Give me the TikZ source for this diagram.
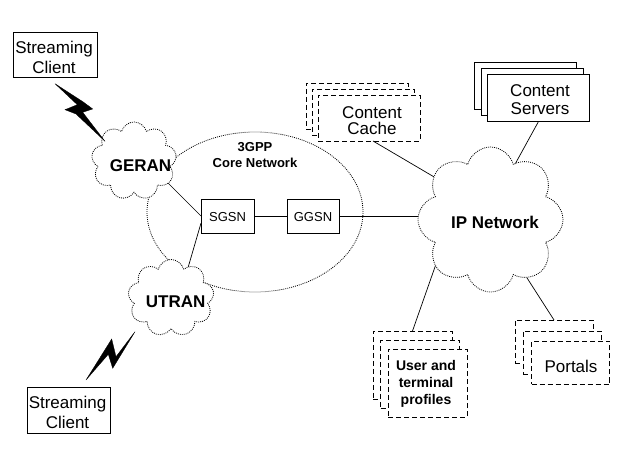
\documentclass[tikz,border=0pt]{standalone}
\usepackage{fontspec}
\setmainfont{Liberation Sans}
\usetikzlibrary{shapes.symbols,shapes.geometric}
\begin{document}
\begin{tikzpicture}[x=1pt,y=-1pt,
  every node/.style={inner sep=0pt,outer sep=0pt},
  box/.style={draw,fill=white,line width=0.8pt,rectangle},
  dbox/.style={box,dash pattern=on 5pt off 3pt},
  dots/.style={line width=0.8pt,dash pattern=on 0.9pt off 1.1pt},
  cloudnode/.style={cloud,cloud puffs=9,cloud ignores aspect,draw,fill=white,dots},
  link/.style={line width=0.7pt},
  bolt/.style={fill=black,draw=black,line width=0.3pt},
  label17/.style={align=center,font=\fontsize{17}{#1}\selectfont},
  label17/.default=20,
  boldfont/.style={font=\fontsize{17}{19}\selectfont\bfseries},
  smallfont/.style={font=\fontsize{13}{15}\selectfont},
  profilefont/.style={align=center,font=\fontsize{14}{17}\selectfont\bfseries}
]
\useasboundingbox (0,0) rectangle (633,468);
\fill[white] (0,0) rectangle (633,468);

% core network ellipse
\node[ellipse,draw,dots,minimum width=216pt,minimum height=160pt] (core) at (255,212) {};
\node[font=\fontsize{13}{16}\selectfont\bfseries,align=center] (coretext) at (255,155) {3GPP\\Core Network};

% SGSN / GGSN
\node[box,smallfont,minimum width=53pt,minimum height=34pt] (sgsn) at (227.5,216) {};
\node[box,smallfont,minimum width=52pt,minimum height=34pt] (ggsn) at (313,216) {};
\node[smallfont] (sgsntext) at (227.5,217) {SGSN};
\node[smallfont] (ggsntext) at (313,217) {GGSN};

\coordinate (ipc) at (490.5,219.5);

% links drawn first
\draw[link] (sgsn.east) -- (ggsn.west);
\draw[link] (ggsn.east) -- (ggsn.east -| ipc);

% content cache (stacked, dashed)
\node[dbox,minimum width=102pt,minimum height=46pt] (cacheC) at (357,106) {};
\node[dbox,minimum width=102pt,minimum height=46pt] (cacheB) at (363,112) {};
\node[dbox,minimum width=102pt,minimum height=46pt] (cache) at (369,118) {};
\node[label17=16.7] (cachetext) at (372,120.5) {Content\\Cache};

% content servers (stacked, solid)
\node[box,minimum width=102pt,minimum height=47pt] (servC) at (525.5,86) {};
\node[box,minimum width=102pt,minimum height=47pt] (servB) at (532,92) {};
\node[box,minimum width=102pt,minimum height=47pt] (serv) at (538.5,98) {};
\node[label17=18.3] (servtext) at (540,99.7) {Content\\Servers};

% user and terminal profiles
\node[dbox,minimum width=79pt,minimum height=68pt] (profC) at (412.5,365) {};
\node[dbox,minimum width=79pt,minimum height=68pt] (profB) at (420,374) {};
\node[dbox,minimum width=79pt,minimum height=68pt] (prof) at (427.5,383) {};
\node[profilefont] (proftext) at (426,384.3) {User and\\terminal\\profiles};

% portals
\node[dbox,minimum width=78pt,minimum height=43pt] (portC) at (554,341.5) {};
\node[dbox,minimum width=78pt,minimum height=43pt] (portB) at (562,352.5) {};
\node[dbox,minimum width=78pt,minimum height=43pt] (port) at (570.5,363) {};
\node[label17] (porttext) at (571,366.1) {Portals};

% IP network cloud and its links
\node[cloudnode,cloud puffs=8,minimum width=145pt,minimum height=145pt] (ip) at (ipc) {};
\draw[link] ([xshift=4pt]cache.south) -- (ip.143);
\draw[link] (serv.south) -- (ip.66);
\draw[link] (profC.north) -- (ip.220);
\draw[link] (portC.north) -- (ip.302);
\node[boldfont] (iptext) at (495,222.1) {IP Network};

% radio access clouds
\node[cloudnode,minimum width=85pt,minimum height=78pt] (geran) at (134,161) {};
\node[boldfont] (gerantext) at (140.5,165.5) {GERAN};
\node[cloudnode,minimum width=86pt,minimum height=77pt] (utran) at (171,298) {};
\node[boldfont] (utrantext) at (175.7,302.1) {UTRAN};

\draw[link] (geran.-33) -- (sgsn.west);
\draw[link] (sgsn.195) -- (utran.61);

% streaming clients
\node[box,minimum width=84pt,minimum height=45pt] (client1) at (55,54.5) {};
\node[label17] (client1text) at (54,57.1) {Streaming\\Client};
\node[box,minimum width=83pt,minimum height=46pt] (client2) at (68.5,410) {};
\node[label17] (client2text) at (67.5,412.1) {Streaming\\Client};

% lightning bolts
\fill[bolt] (55,83.7) -- (83.3,102) -- (92.7,109) -- (82.7,112.3) -- (105,141.3) -- (76,114) -- (65,109.7) -- (77.3,104.7) -- cycle;
\fill[bolt] (86,380) -- (111.7,339) -- (116,356.7) -- (135,331.7) -- (112.7,368.3) -- (108.3,354.3) -- cycle;
\end{tikzpicture}
\end{document}
